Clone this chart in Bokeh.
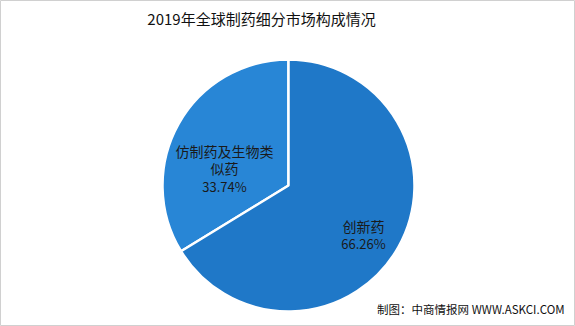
import math
from bokeh.plotting import figure
from bokeh.models import Range1d, ColumnDataSource
from bokeh.core.properties import value
from bokeh.embed import file_html
from bokeh.resources import INLINE

title = "2019年全球制药细分市场构成情况"
categories = ["仿制药及生物类似药", "创新药"]
shares = [33.74, 66.26]
colors = ["#2886D6", "#1F78C8"]
source_note = "制图：中商情报网 WWW.ASKCI.COM"

W, H = 575, 326
p = figure(width=W, height=H, output_backend="svg", toolbar_location=None,
           x_range=Range1d(0, W), y_range=Range1d(0, H), min_border=0)
p.axis.visible = False
p.grid.visible = False
p.background_fill_color = "white"
p.outline_line_color = "#d0d0d0"

cx, cy, r = 288, H - 185, 126
total = sum(shares)
starts, ends = [], []
a = math.pi / 2
for s in shares:
    starts.append(a)
    a += s / total * 2 * math.pi
    ends.append(a)
src = ColumnDataSource(dict(start=starts, end=ends, color=colors))
p.wedge(x=cx, y=cy, radius=r, start_angle="start", end_angle="end",
        fill_color="color", line_color="white", line_width=2.5, source=src)

font = value("Noto Sans CJK SC")
# title
p.text(x=[261], y=[H - 18], text=[title], text_font=font, text_font_size="15px",
       text_align="center", text_baseline="middle", text_color="#111111")

# labels
p.text(x=[224, 224], y=[H - 150, H - 167], text=["仿制药及生物类", "似药"], text_font=font,
       text_font_size="14px", text_align="center", text_baseline="middle", text_color="#1a1a1a")
p.text(x=[224], y=[H - 186], text=[f"{shares[0]:.2f}%"], text_font=font,
       text_font_size="13px", text_align="center", text_baseline="middle", text_color="#1a1a1a")
p.text(x=[363], y=[H - 225], text=["创新药"], text_font=font,
       text_font_size="14px", text_align="center", text_baseline="middle", text_color="#1a1a1a")
p.text(x=[363], y=[H - 243], text=[f"{shares[1]:.2f}%"], text_font=font,
       text_font_size="13px", text_align="center", text_baseline="middle", text_color="#1a1a1a")

p.text(x=[564], y=[H - 308], text=[source_note], text_font=font, text_font_size="11.5px",
       text_align="right", text_baseline="middle", text_color="#111111")

open("out.html", "w").write(file_html(p, INLINE))
